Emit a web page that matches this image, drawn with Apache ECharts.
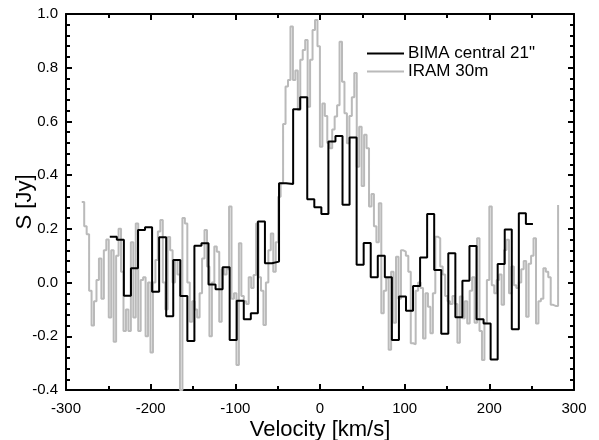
<!DOCTYPE html>
<html>
<head>
<meta charset="utf-8">
<script src="https://cdn.jsdelivr.net/npm/echarts@6/dist/echarts.min.js"></script>
<style>
  html, body { margin: 0; padding: 0; background: #fff; }
  #container { width: 599px; height: 440px; }
</style>
</head>
<body>
<div id="container"></div>
<script>
// spectrum channels: left edge of first channel and channel width (km/s)
var bimaStart = -248.3, bimaWidth = 8.33;
var iramStart = -281.4, iramWidth = 2.9;

// BIMA central 21" flux per channel (Jy)
var bimaFlux = [
  0.171, 0.159, -0.049, 0.053, 0.196, 0.206, -0.034, 0.169, -0.125, 0.084,
  -0.05, -0.218, 0.137, 0.146, -0.007, -0.025, 0.057, -0.214, -0.068, -0.137,
  -0.114, 0.227, 0.072, 0.078, 0.37, 0.367, 0.645, 0.69, 0.31, 0.28,
  0.255, 0.525, 0.546, 0.29, 0.54, 0.066, 0.147, 0.02, 0.10, 0.02,
  -0.214, -0.052, -0.105, -0.013, 0.093, 0.255, 0.047, -0.191, 0.109, -0.129,
  0.007, 0.136, -0.137, -0.152, -0.286, 0.069, 0.198, -0.174, 0.258, 0.218,
  0.218
];

// IRAM 30m flux per channel (Jy)
var iramFlux = [
  0.30, 0.21, 0.18, -0.03, -0.16, -0.07, 0.01, 0.09, -0.06, 0.12,
  0.16, -0.13, 0.12, -0.22, 0.10, 0.20, 0.04, -0.18, -0.10, -0.18,
  0.15, -0.13, 0.22, -0.18, 0.01, 0.02, -0.20, 0.00, -0.26, 0.00,
  0.084, 0.19, 0.233, 0.0, -0.10, 0.17, 0.12, 0.0, 0.084, 0.03,
  -0.40, 0.24, 0.22, 0.0, -0.146, -0.07, -0.10, -0.13, -0.04, 0.09,
  0.196, 0.06, -0.20, 0.0, 0.134, 0.115, -0.146, 0.05, 0.03, 0.05,
  0.283, -0.06, -0.04, -0.307, 0.146, -0.05, -0.07, -0.08, 0.02, -0.02,
  0.028, 0.22, 0.02, -0.03, -0.158, 0.0, 0.12, 0.183, 0.04, 0.15,
  0.32, 0.37, 0.59, 0.73, 0.754, 0.953, 0.754, 0.79, 0.643, 0.83,
  0.866, 0.903, 0.655, 0.83, 0.94, 0.978, 0.88, 0.506, 0.667, 0.62,
  0.52, 0.50, 0.57, 0.618, 0.66, 0.897, 0.748, 0.63, 0.519, 0.62,
  0.69, 0.78, 0.431, 0.58, 0.36, 0.55, 0.50, 0.283, 0.33, 0.21,
  0.15, 0.295, -0.114, -0.03, 0.016, -0.25, 0.04, -0.15, 0.096, -0.06,
  0.12, 0.115, 0.10, 0.04, -0.226, -0.23, -0.03, 0.0, -0.02, -0.208,
  -0.04, -0.09, -0.189, -0.04, 0.171, 0.165, 0.06, 0.03, -0.05, -0.07,
  -0.08, -0.05, -0.08, -0.224, -0.052, -0.133, -0.07, -0.152, -0.03, 0.02,
  -0.15, 0.165, -0.18, -0.288, -0.15, 0.01, 0.283, -0.01, -0.04, 0.01,
  0.03, -0.083, 0.121, 0.159, -0.04, 0.06, -0.01, -0.02, 0.0, 0.05,
  0.08, -0.127, 0.07, 0.10, 0.165, -0.152, -0.07, -0.06, 0.053, 0.04,
  0.02, -0.083, -0.087, -0.087, 0.289
];

var seriesNames = ['BIMA central 21"', 'IRAM 30m'];

let toPoints = (start, width, flux) => flux.map((s, i) => [start + i * width, s]);

var dom = document.getElementById('container');
var myChart = echarts.init(dom);
var font = 'Liberation Sans, Arial, sans-serif';

var axisBase = {
  type: 'value',
  axisLine: { show: true, onZero: false, lineStyle: { color: '#000', width: 2 } },
  axisTick: { show: true, inside: true, length: 6, lineStyle: { color: '#000', width: 2 } },
  minorTick: { show: true, length: 4, lineStyle: { color: '#000', width: 2 } },
  splitLine: { show: false }
};

var option = {
  animation: false,
  backgroundColor: '#fff',
  grid: { left: 66, right: 25, top: 14, bottom: 50, outerBoundsMode: 'none', containLabel: false },
  legend: {
    data: seriesNames,
    orient: 'vertical',
    left: 362,
    top: 40,
    icon: 'rect',
    itemWidth: 37,
    itemHeight: 2,
    itemGap: 1,
    textStyle: { color: '#000', fontSize: 17, fontFamily: font, padding: [0, 0, 0, -1] }
  },
  xAxis: [
    Object.assign({}, axisBase, {
      min: -300, max: 300, interval: 100, position: 'bottom',
      minorTick: Object.assign({}, axisBase.minorTick, { splitNumber: 2 }),
      axisLabel: { color: '#000', fontSize: 15, fontFamily: font, margin: 11 },
      name: 'Velocity [km/s]', nameLocation: 'middle', nameGap: 29, nameMoveOverlap: false,
      nameTextStyle: { color: '#000', fontSize: 22, fontFamily: font }
    }),
    Object.assign({}, axisBase, {
      min: -300, max: 300, interval: 100, position: 'top',
      minorTick: Object.assign({}, axisBase.minorTick, { splitNumber: 2 }),
      axisLabel: { show: false }
    })
  ],
  yAxis: [
    Object.assign({}, axisBase, {
      min: -0.4, max: 1.0, interval: 0.2, position: 'left',
      minorTick: Object.assign({}, axisBase.minorTick, { splitNumber: 5 }),
      axisLabel: { color: '#000', fontSize: 15, fontFamily: font, margin: 8,
        formatter: v => v.toFixed(1) },
      name: 'S [Jy]', nameLocation: 'middle', nameGap: 30, nameMoveOverlap: false,
      nameTextStyle: { color: '#000', fontSize: 22, fontFamily: font }
    }),
    Object.assign({}, axisBase, {
      min: -0.4, max: 1.0, interval: 0.2, position: 'right',
      minorTick: Object.assign({}, axisBase.minorTick, { splitNumber: 5 }),
      axisLabel: { show: false }
    })
  ],
  series: [
    {
      name: seriesNames[1],
      type: 'line',
      step: 'end',
      symbol: 'none',
      z: 2,
      lineStyle: { color: '#bababa', width: 2 },
      itemStyle: { color: '#bababa' },
      data: toPoints(iramStart, iramWidth, iramFlux)
    },
    {
      name: seriesNames[0],
      type: 'line',
      step: 'end',
      symbol: 'none',
      z: 3,
      lineStyle: { color: '#000', width: 2 },
      itemStyle: { color: '#000' },
      data: toPoints(bimaStart, bimaWidth, bimaFlux)
    }
  ]
};

if (option && typeof option === 'object') {
  myChart.setOption(option, true);
}
</script>
</body>
</html>
